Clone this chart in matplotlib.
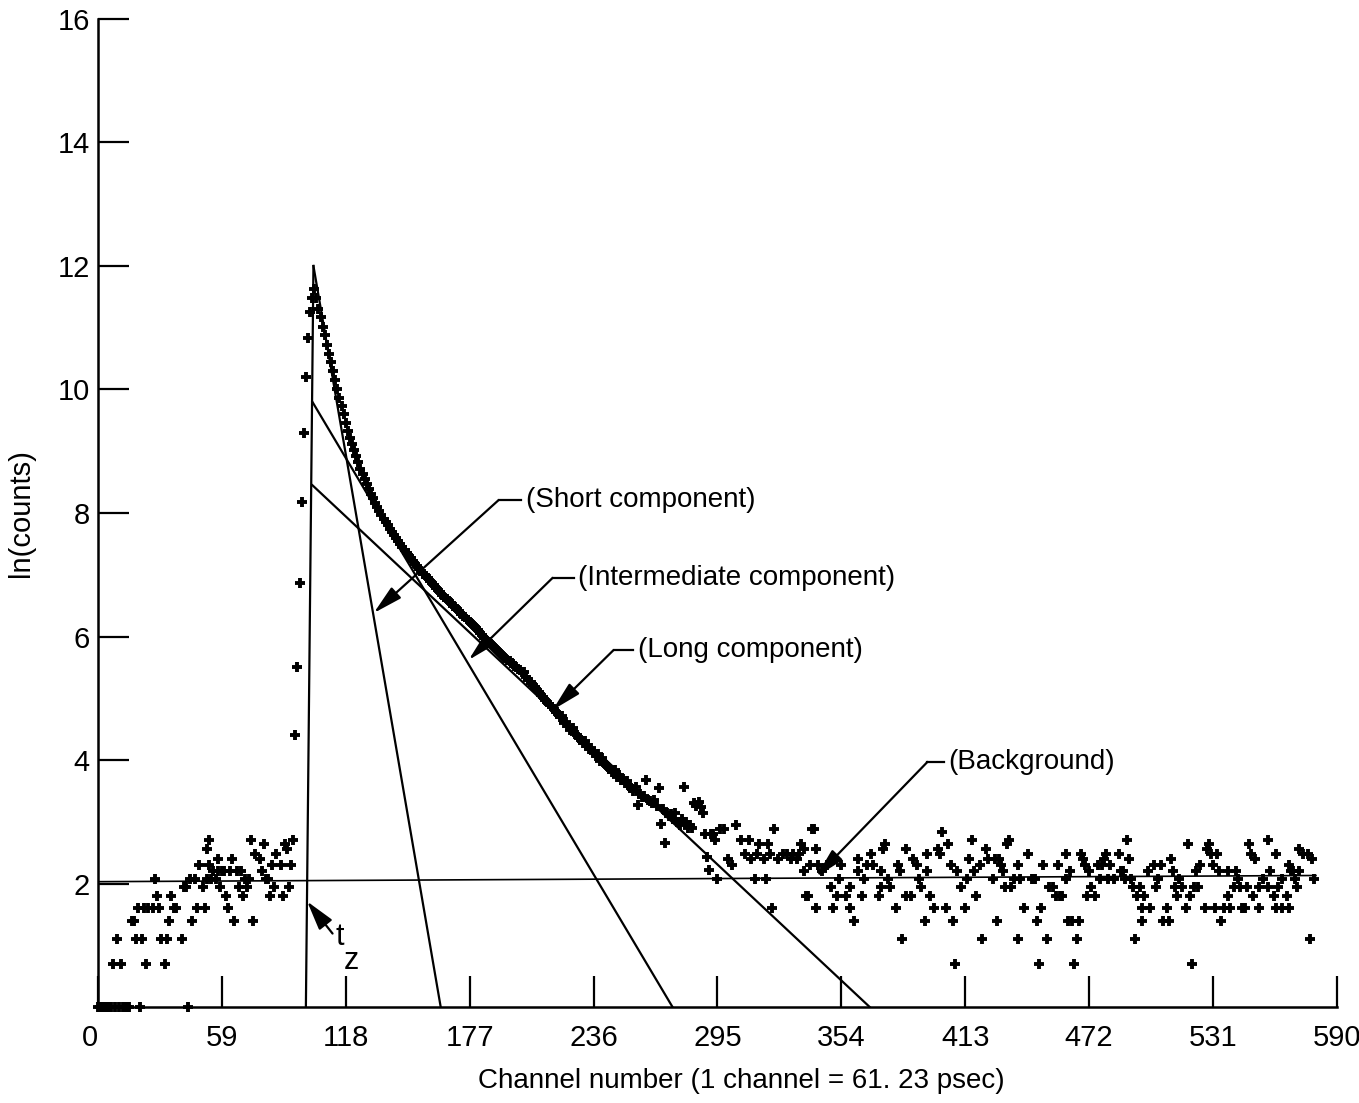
import numpy as np
from matplotlib import pyplot as plt

# background region before the pulse: channel, raw counts
earlyCh = [0, 1, 2, 3, 4, 5, 6, 7, 8, 9,
           10, 11, 12, 13, 14, 15, 16, 17, 18, 19,
           20, 21, 22, 23, 24, 26, 27, 28, 29, 30,
           32, 33, 34, 35, 36, 37, 40, 41, 42, 43,
           44, 45, 46, 47, 48, 50, 51, 52, 52, 53,
           53, 54, 55, 56, 57, 57, 58, 59, 60, 61,
           62, 63, 64, 65, 66, 67, 68, 69, 70, 71,
           72, 73, 74, 75, 77, 78, 79, 80, 81, 82,
           83, 84, 85, 87, 88, 89, 90, 91, 92, 93]
earlyCounts = [1, 1, 1, 1, 1, 1, 1, 2, 1, 3,
               1, 2, 1, 1, 1, 1, 4, 4, 3, 5,
               1, 3, 5, 2, 5, 5, 8, 6, 5, 3,
               2, 3, 4, 6, 5, 5, 3, 7, 7, 1,
               8, 4, 8, 5, 10, 7, 5, 8, 13, 10,
               15, 8, 9, 8, 9, 11, 7, 9, 9, 6,
               5, 9, 11, 4, 9, 7, 9, 6, 8, 7,
               8, 15, 4, 12, 11, 9, 14, 8, 8, 6,
               10, 7, 12, 10, 6, 14, 13, 7, 10, 15]

# rising edge, ln(counts)
riseCh = [94, 95, 96, 97, 98, 99, 100, 101, 102]
riseLn = [4.40, 5.51, 6.86, 8.18, 9.29, 10.21, 10.83, 11.26, 11.48]

# decay, ln(counts), one value per channel from decayStart
decayStart = 103
decayLn = [11.62, 11.48, 11.30, 11.18, 11.02, 10.88, 10.72, 10.58, 10.45, 10.30,
           10.15, 10.00, 9.86, 9.74, 9.60, 9.46, 9.32, 9.22, 9.12, 9.02,
           8.92, 8.82, 8.72, 8.63, 8.55, 8.47, 8.39, 8.31, 8.24, 8.17,
           8.10, 8.03, 7.97, 7.91, 7.85, 7.80, 7.74, 7.69, 7.64, 7.59,
           7.54, 7.49, 7.45, 7.40, 7.36, 7.31, 7.27, 7.22, 7.18, 7.14,
           7.10, 7.06, 7.02, 6.98, 6.94, 6.90, 6.86, 6.83, 6.79, 6.75,
           6.72, 6.68, 6.64, 6.61, 6.57, 6.54, 6.50, 6.47, 6.44, 6.41,
           6.37, 6.34, 6.31, 6.27, 6.24, 6.20, 6.17, 6.13, 6.10, 6.06,
           6.02, 5.98, 5.94, 5.91, 5.88, 5.85, 5.82, 5.78, 5.75, 5.72,
           5.69, 5.66, 5.62, 5.60, 5.57, 5.52, 5.50, 5.48, 5.45, 5.42,
           5.43, 5.35, 5.30, 5.26, 5.22, 5.18, 5.14, 5.10, 5.06, 5.02,
           4.98, 4.94, 4.90, 4.86, 4.82, 4.78, 4.74, 4.70, 4.72, 4.60,
           4.62, 4.55, 4.48, 4.52, 4.42, 4.40, 4.35, 4.33, 4.28, 4.30,
           4.22, 4.18, 4.20, 4.12, 4.06, 4.10, 3.98, 4.03, 3.95, 3.92,
           3.88, 3.85, 3.80, 3.84, 3.73, 3.76, 3.68, 3.70, 3.62, 3.66,
           3.58, 3.55, 3.50, 3.56, 3.27, 3.45, 3.40, 3.42, 3.68, 3.36,
           3.33, 3.30, 3.35, 3.25, 3.54, 2.97, 3.20, 2.65, 3.15, 3.10,
           3.12, 3.05, 3.14, 3.00, 2.95, 3.05, 3.57, 3.00, 2.90, 2.95,
           2.90, 3.30, 3.25, 3.32, 3.24, 3.14, 2.81, 2.43, 2.22, 2.81,
           2.81, 2.70, 2.08]

# tail / background after the pulse: channel, raw counts
lateCh = [296, 298, 300, 302, 304, 306, 308, 310, 311, 313,
          314, 315, 317, 318, 319, 320, 321, 322, 324, 326,
          328, 330, 331, 333, 334, 335, 336, 336, 337, 338,
          339, 340, 341, 342, 342, 343, 345, 347, 349, 350,
          352, 353, 354, 356, 358, 358, 360, 362, 362, 364,
          365, 366, 368, 369, 372, 373, 373, 374, 375, 376,
          377, 380, 381, 382, 383, 385, 385, 387, 388, 390,
          391, 392, 394, 395, 395, 396, 398, 400, 401, 402,
          404, 405, 406, 407, 408, 409, 411, 413, 414, 415,
          416, 417, 418, 420, 421, 423, 424, 426, 427, 428,
          429, 430, 431, 432, 433, 434, 435, 436, 438, 438,
          439, 441, 443, 445, 446, 447, 448, 449, 450, 452,
          453, 455, 456, 457, 458, 459, 461, 461, 462, 463,
          464, 465, 466, 467, 468, 469, 470, 471, 472, 473,
          475, 476, 477, 478, 479, 480, 481, 482, 484, 486,
          487, 488, 489, 490, 491, 492, 493, 494, 495, 496,
          497, 497, 498, 500, 501, 503, 504, 505, 506, 507,
          509, 510, 511, 512, 513, 514, 515, 516, 518, 519,
          520, 521, 522, 523, 524, 525, 527, 528, 529, 530,
          531, 532, 533, 534, 535, 536, 538, 538, 539, 541,
          542, 543, 544, 545, 546, 547, 548, 549, 550, 551,
          553, 553, 555, 557, 557, 558, 560, 561, 561, 562,
          564, 564, 566, 567, 567, 568, 569, 570, 571, 572,
          572, 574, 576, 577, 578, 579]
lateCounts = [18, 18, 11, 10, 19, 15, 12, 15, 11, 8,
              12, 14, 11, 8, 14, 12, 5, 18, 11, 12,
              12, 11, 12, 11, 12, 14, 13, 9, 6, 6,
              10, 18, 18, 13, 5, 10, 9, 10, 7, 5,
              6, 8, 10, 6, 5, 7, 4, 11, 9, 6,
              8, 10, 12, 10, 6, 7, 9, 13, 14, 8,
              7, 5, 10, 9, 3, 13, 6, 6, 11, 10,
              8, 7, 4, 12, 9, 6, 5, 13, 12, 17,
              5, 14, 10, 4, 2, 9, 7, 5, 8, 11,
              15, 9, 6, 10, 3, 13, 11, 8, 11, 4,
              11, 10, 9, 7, 14, 15, 7, 8, 10, 3,
              8, 5, 12, 8, 8, 4, 2, 5, 10, 3,
              7, 7, 6, 10, 6, 6, 12, 8, 4, 9,
              4, 2, 3, 4, 12, 11, 10, 6, 9, 7,
              6, 10, 8, 10, 11, 12, 8, 10, 8, 12,
              9, 9, 8, 15, 11, 8, 7, 3, 6, 7,
              5, 4, 6, 9, 5, 10, 7, 8, 10, 4,
              5, 4, 11, 9, 7, 6, 8, 7, 5, 14,
              6, 2, 7, 9, 7, 10, 5, 13, 14, 12,
              10, 5, 12, 9, 4, 5, 6, 9, 5, 7,
              9, 8, 7, 5, 5, 7, 14, 12, 6, 11,
              7, 5, 8, 15, 7, 9, 6, 12, 5, 7,
              8, 5, 6, 10, 5, 9, 9, 8, 7, 9,
              13, 12, 12, 3, 11, 8]

# fitted lines, end points as (channels, ln values)
tzLine = ([99.0, 102.6], [0.0, 12.0])
shortLine = ([102.6, 163.2], [12.0, 0.0])
interLine = ([102.1, 273.6], [9.8, 0.0])
longLine = ([102.1, 367.5], [8.45, 0.0])
bgLine = ([0.0, 580.0], [2.03, 2.13])

xTicks = [0, 59, 118, 177, 236, 295, 354, 413, 472, 531, 590]
yTicks = [2, 4, 6, 8, 10, 12, 14, 16]

plt.rcParams['font.family'] = ['Liberation Sans', 'DejaVu Sans']


def labelArrow(ax, text, tip, corner, textX):
  # leader: short horizontal stub then a slanted arrow onto the curve
  ax.plot([corner[0], textX - 2], [corner[1], corner[1]], color='k', lw=1.6)
  ax.annotate('', xy=tip, xytext=corner,
              arrowprops=dict(arrowstyle='-|>,head_length=0.9,head_width=0.22',
                              mutation_scale=20, lw=1.6, color='k',
                              shrinkA=0, shrinkB=0))
  ax.text(textX, corner[1], text, fontsize=20, va='center', ha='left')


def plotSpectrum():
  fig = plt.figure(figsize=(13.59, 11.03), dpi=100)
  ax = fig.add_axes([0.0721, 0.0870, 0.9117, 0.8958])

  mk = dict(ls='none', marker='+', ms=7.5, mew=2.8, color='k', clip_on=False)
  ax.plot(earlyCh, np.log(earlyCounts), **mk)
  ax.plot(riseCh, riseLn, **mk)
  decayCh = np.arange(decayStart, decayStart + len(decayLn))
  ax.plot(decayCh, decayLn, **mk)
  ax.plot(lateCh, np.log(lateCounts), **mk)

  for ln, lw in [(tzLine, 1.6), (shortLine, 1.6), (interLine, 1.6), (longLine, 1.6), (bgLine, 1.2)]:
    ax.plot(ln[0], ln[1], color='k', lw=lw)

  labelArrow(ax, '(Short component)', (131.3, 6.38), (190.8, 8.21), 203.6)
  labelArrow(ax, '(Intermediate component)', (176.5, 5.62), (216.5, 6.95), 228.5)
  labelArrow(ax, '(Long component)', (216.5, 4.81), (245.5, 5.78), 257.0)
  labelArrow(ax, '(Background)', (342.0, 2.11), (395.0, 3.97), 405.0)

  # t_z marker
  ax.annotate('', xy=(99.6, 1.71), xytext=(111.7, 1.19),
              arrowprops=dict(arrowstyle='-|>,head_length=0.9,head_width=0.25',
                              mutation_scale=20, lw=1.6, color='k',
                              shrinkA=0, shrinkB=0))
  ax.text(113.0, 1.14, 't', fontsize=22, ha='left', va='center')
  ax.text(117.0, 0.74, 'z', fontsize=22, ha='left', va='center')

  ax.set_xlim(0, 590)
  ax.set_ylim(0, 16)
  ax.set_xticks(xTicks)
  ax.set_yticks(yTicks)
  ax.tick_params(axis='both', direction='in', length=22, width=1.6, labelsize=21)
  ax.tick_params(axis='x', pad=12)
  ax.tick_params(axis='y', pad=6)
  ax.get_xticklabels()[0].set_ha('right')
  for side in ['top', 'right']:
    ax.spines[side].set_visible(False)
  for side in ['left', 'bottom']:
    ax.spines[side].set_linewidth(1.8)

  ax.set_xlabel('Channel number (1 channel = 61. 23 psec)', fontsize=20, labelpad=12)
  ax.xaxis.set_label_coords(0.519, -0.062)
  ax.set_ylabel('ln(counts)', fontsize=21, labelpad=16)

  plt.savefig('out.png', dpi=100)
  plt.close('all')


plotSpectrum()
